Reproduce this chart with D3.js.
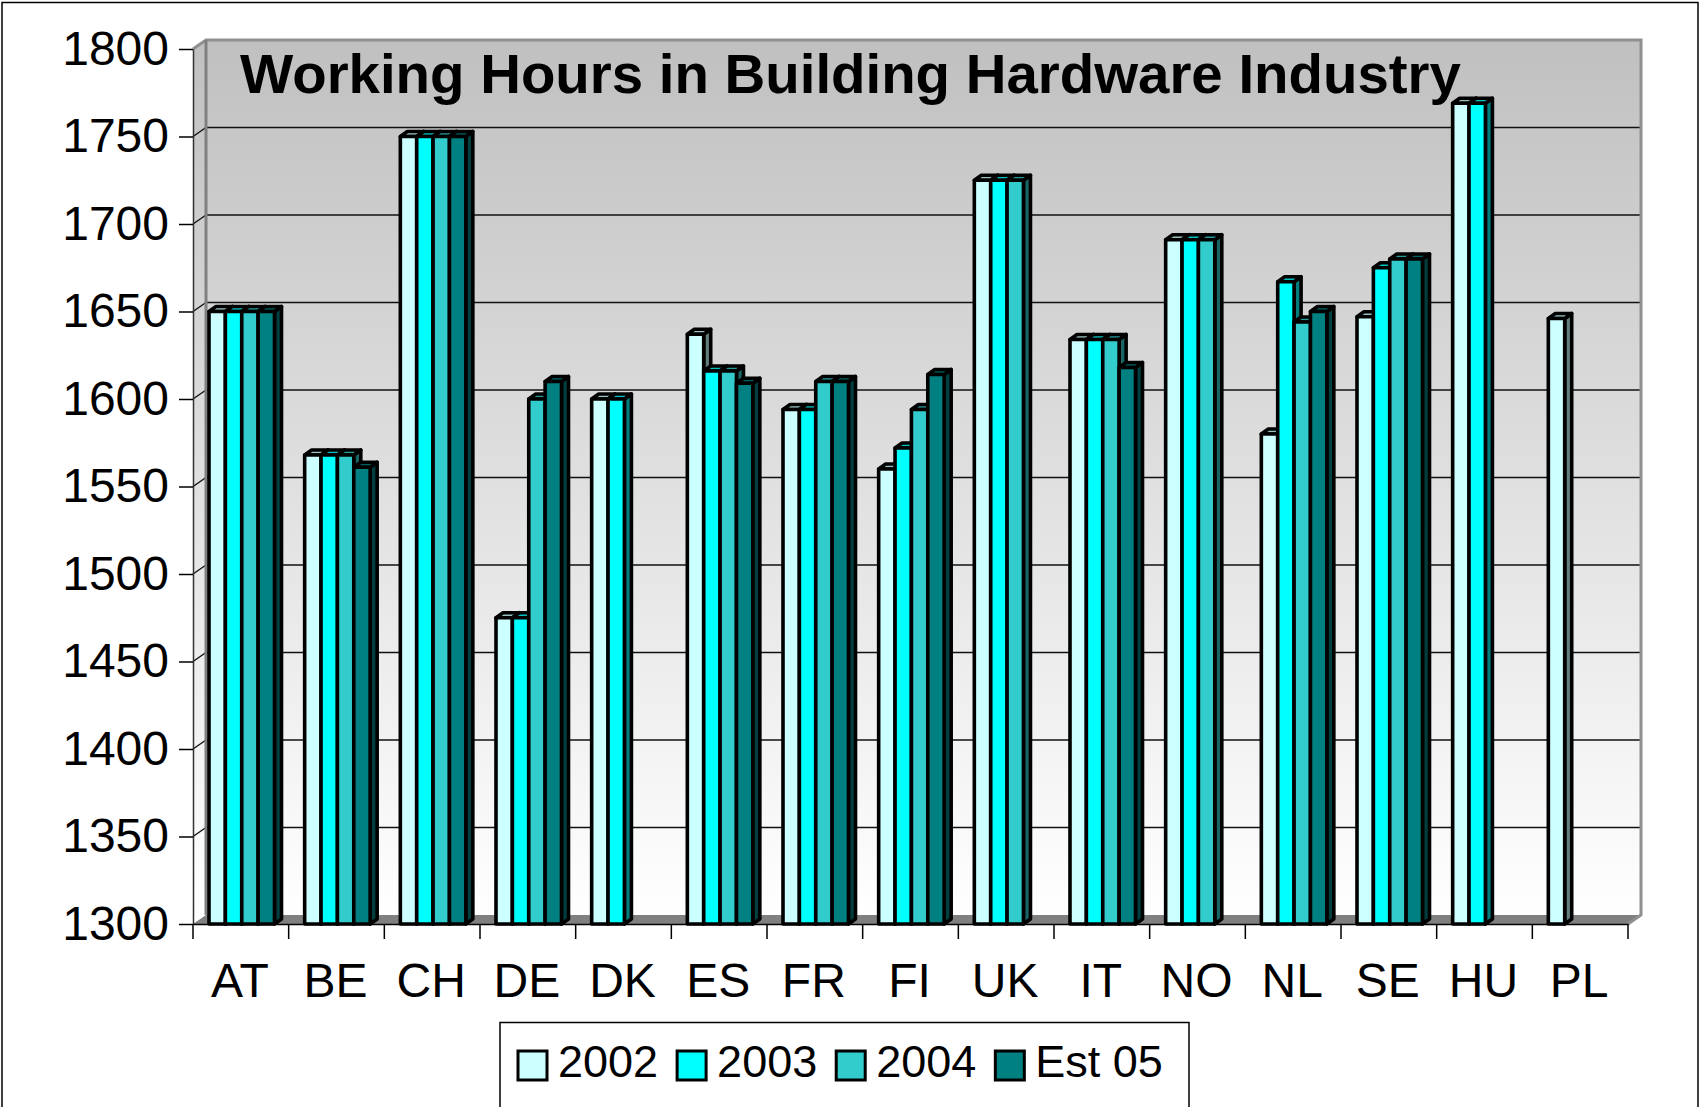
<!DOCTYPE html>
<html>
<head>
<meta charset="utf-8">
<script src="https://cdn.jsdelivr.net/npm/d3@7"></script>
<style>
  body { margin: 0; background: #fff; }
  svg text { font-family: "Liberation Sans", Arial, sans-serif; }
</style>
</head>
<body>
<svg id="chart"></svg>
<script>
// chart data
const categories = ['AT', 'BE', 'CH', 'DE', 'DK', 'ES', 'FR', 'FI', 'UK', 'IT', 'NO', 'NL', 'SE', 'HU', 'PL'];
const seriesNames = ['2002', '2003', '2004', 'Est 05'];
const hours2002  = [1650, 1568, 1750, 1475, 1600, 1637, 1594, 1560, 1725, 1634, 1691, 1580, 1647, 1769, 1646];
const hours2003  = [1650, 1568, 1750, 1475, 1600, 1616, 1594, 1572, 1725, 1634, 1691, 1667, 1675, 1769, null];
const hours2004  = [1650, 1568, 1750, 1600, null, 1616, 1610, 1594, 1725, 1634, 1691, 1644, 1680, null, null];
const hoursEst05 = [1650, 1561, 1750, 1610, null, 1609, 1610, 1614, null, 1618, null, 1650, 1680, null, null];
const seriesColors = ['#ccffff', '#00ffff', '#33cccc', '#008080'];
const yTicks = [1300, 1350, 1400, 1450, 1500, 1550, 1600, 1650, 1700, 1750, 1800];
const chartTitle = 'Working Hours in Building Hardware Industry';

const allSeries = [hours2002, hours2003, hours2004, hoursEst05];

const W = 1700, H = 1107;
const plotLeft = 193, plotRight = 1628, plotTop = 49, plotBottom = 924;
// 3d offsets of the walls and of the bars
const wdx = 13, wdy = -9;
const bdx = 7, bdy = -5;

const svg = d3.select('#chart').attr('width', W).attr('height', H);

const y = d3.scaleLinear().domain([1300, 1800]).range([plotBottom, plotTop]);
const x = d3.scaleBand().domain(categories).range([plotLeft, plotRight]);
const x1 = d3.scaleBand().domain(seriesNames).range([16, 81.5]);

const pts = arr => arr.map(p => p.join(',')).join(' ');

// gradient for walls
const defs = svg.append('defs');
const grad = defs.append('linearGradient')
    .attr('id', 'wallGrad')
    .attr('gradientUnits', 'userSpaceOnUse')
    .attr('x1', 0).attr('y1', plotTop + wdy)
    .attr('x2', 0).attr('y2', plotBottom + wdy);
grad.append('stop').attr('offset', 0).attr('stop-color', '#c0c0c0');
grad.append('stop').attr('offset', 1).attr('stop-color', '#ffffff');

// outer border
svg.append('rect')
    .attr('x', 2).attr('y', 2.5)
    .attr('width', W - 4).attr('height', H + 20)
    .attr('fill', 'none').attr('stroke', '#000').attr('stroke-width', 1.5);

// back wall
svg.append('rect')
    .attr('x', plotLeft + wdx).attr('y', plotTop + wdy)
    .attr('width', plotRight - plotLeft).attr('height', plotBottom - plotTop)
    .attr('fill', 'url(#wallGrad)');

// side wall
svg.append('polygon')
    .attr('points', pts([[plotLeft, plotTop], [plotLeft + wdx, plotTop + wdy], [plotLeft + wdx, plotBottom + wdy], [plotLeft, plotBottom]]))
    .attr('fill', 'url(#wallGrad)');

// gridlines
const grid = svg.append('g').attr('class', 'grid');
yTicks.filter(t => t > 1300 && t < 1800).forEach(t => {
  grid.append('line')
      .attr('x1', plotLeft + wdx).attr('x2', plotRight + wdx)
      .attr('y1', y(t) + wdy).attr('y2', y(t) + wdy)
      .attr('stroke', '#111').attr('stroke-width', 1.4);
  grid.append('line')
      .attr('x1', plotLeft).attr('x2', plotLeft + wdx)
      .attr('y1', y(t)).attr('y2', y(t) + wdy)
      .attr('stroke', '#111').attr('stroke-width', 1.4);
});

// floor
svg.append('polygon')
    .attr('points', pts([[plotLeft, plotBottom], [plotRight, plotBottom], [plotRight + wdx, plotBottom + wdy], [plotLeft + wdx, plotBottom + wdy]]))
    .attr('fill', '#808080');

// wall edges
svg.append('polyline')
    .attr('points', pts([[plotLeft, plotTop], [plotLeft + wdx, plotTop + wdy], [plotRight + wdx, plotTop + wdy], [plotRight + wdx, plotBottom + wdy], [plotRight, plotBottom]]))
    .attr('fill', 'none').attr('stroke', '#909090').attr('stroke-width', 3);
svg.append('line')
    .attr('x1', plotLeft + wdx).attr('x2', plotLeft + wdx)
    .attr('y1', plotTop + wdy).attr('y2', plotBottom + wdy)
    .attr('stroke', '#808080').attr('stroke-width', 3);

// bars
const bars = svg.append('g').attr('class', 'bars')
    .attr('stroke', '#000').attr('stroke-width', 3.6).attr('stroke-linejoin', 'round');

categories.forEach((c, ci) => {
  seriesNames.forEach((s, si) => {
    const v = allSeries[si][ci];
    if (v == null) return;
    const x0 = x(c) + x1(s);
    const xr = x0 + x1.bandwidth();
    const yt = y(v);
    const col = seriesColors[si];
    bars.append('polygon')
        .attr('points', pts([[xr, yt], [xr + bdx, yt + bdy], [xr + bdx, plotBottom + bdy], [xr, plotBottom]]))
        .attr('fill', d3.color(col).darker(2));
    bars.append('polygon')
        .attr('points', pts([[x0, yt], [xr, yt], [xr + bdx, yt + bdy], [x0 + bdx, yt + bdy]]))
        .attr('fill', d3.color(col).darker(0.8));
    bars.append('rect')
        .attr('x', x0).attr('y', yt)
        .attr('width', x1.bandwidth()).attr('height', plotBottom - yt)
        .attr('fill', col);
  });
});

// y axis
const yAxis = d3.axisLeft(y).tickValues(yTicks).tickFormat(d3.format('d'))
    .tickSize(14).tickSizeOuter(0).tickPadding(10);
const yAxisG = svg.append('g')
    .attr('transform', `translate(${plotLeft},0)`)
    .call(yAxis);
yAxisG.select('.domain').attr('stroke', '#333').attr('stroke-width', 1.5);
yAxisG.selectAll('.tick line').attr('stroke', '#000').attr('stroke-width', 1.5);
yAxisG.selectAll('text')
    .attr('font-size', 48).attr('fill', '#000')
    .style('font-family', '"Liberation Sans", Arial, sans-serif');

// x axis
const xAxis = d3.axisBottom(x).tickSize(0).tickPadding(39);
const xAxisG = svg.append('g')
    .attr('transform', `translate(-1,${plotBottom})`)
    .call(xAxis);
xAxisG.select('.domain').attr('transform', 'translate(1,0)').attr('stroke', '#000').attr('stroke-width', 1.5);
xAxisG.selectAll('text')
    .attr('font-size', 48).attr('fill', '#000')
    .style('font-family', '"Liberation Sans", Arial, sans-serif');

// category boundary ticks
const bounds = categories.map(c => x(c)).concat([plotRight]);
svg.append('g')
    .attr('transform', `translate(0,${plotBottom})`)
    .selectAll('line')
    .data(bounds)
    .join('line')
    .attr('x1', d => d).attr('x2', d => d)
    .attr('y1', 0).attr('y2', 15)
    .attr('stroke', '#000').attr('stroke-width', 1.5);

// title
svg.append('text')
    .attr('x', 240).attr('y', 93)
    .attr('font-size', 56.4).attr('font-weight', 'bold')
    .attr('fill', '#000')
    .text(chartTitle);

// legend
const legend = svg.append('g').attr('class', 'legend');
legend.append('rect')
    .attr('x', 500).attr('y', 1022.5)
    .attr('width', 689).attr('height', 120)
    .attr('fill', '#fff').attr('stroke', '#000').attr('stroke-width', 1.5);

let lx = 518;
seriesNames.forEach((s, i) => {
  legend.append('rect')
      .attr('x', lx).attr('y', 1051)
      .attr('width', 29).attr('height', 29)
      .attr('fill', seriesColors[i]).attr('stroke', '#000').attr('stroke-width', 3);
  const t = legend.append('text')
      .attr('x', lx + 40).attr('y', 1077)
      .attr('font-size', 45).attr('fill', '#000')
      .text(s);
  lx = lx + 40 + t.node().getComputedTextLength() + 19;
});
</script>
</body>
</html>
